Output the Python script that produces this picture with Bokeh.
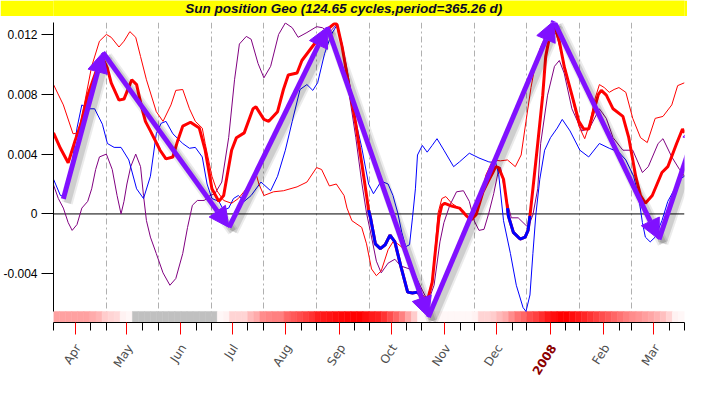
import numpy as np
from bokeh.plotting import figure
from bokeh.models import (Range1d, FixedTicker, Span, Arrow, NormalHead, ColumnDataSource)
from bokeh.layouts import column
from bokeh.core.properties import value
from bokeh.embed import file_html
from bokeh.resources import INLINE

# ---------------- data ----------------
TITLE = "Sun position Geo  (124.65 cycles,period=365.26 d)"
PERIOD_DAYS = 365.26
START = np.datetime64("2007-03-19T12:00")

MONTH_LABELS = ["Apr", "May", "Jun", "Jul", "Aug", "Sep", "Oct", "Nov", "Dec", "2008", "Feb", "Mar"]
MONTH_STARTS = ["2007-04-01", "2007-05-01", "2007-06-01", "2007-07-01", "2007-08-01", "2007-09-01",
                "2007-10-01", "2007-11-01", "2007-12-01", "2008-01-01", "2008-02-01", "2008-03-01"]

Y_TICKS = [-0.004, 0.0, 0.004, 0.008, 0.012]
Y_TICK_LABELS = ["-0.004", "0", "0.004", "0.008", "0.012"]

# series: day since START, value in units of 1e-3
RED_THICK_DAY = [0, 4.0, 8.5, 12.5, 16.4, 19.8, 24.9, 28.3, 31.2, 33.4, 37.9, 40.8, 45.3, 48.1, 51.0, 53.2,
                 56.1, 61.7, 65.1, 69.1, 71.9, 74.8, 79.3, 84.4, 87.8, 91.7, 95.7, 98.5, 103.1, 105.9, 110.4,
                 115.5, 117.2, 121.8, 124.6, 129.7, 133.1, 135.9, 141.0, 143.8, 150.1, 155.2, 159.7, 163.1,
                 164.2, 167.1, 171.0, 175.0, 178.4, 181.2, 182.4, 183.5, 186.3, 189.2, 192.0, 194.8, 197.6,
                 201.0, 205.0, 207.8, 210.7, 213.5, 216.3, 219.2, 220.9, 223.1, 224.8, 226.5, 230.5, 235.0,
                 239.0, 241.8, 244.6, 248.6, 251.4, 254.3, 256.0, 257.7, 260.5, 262.8, 263.3, 266.2, 270.1,
                 273.0, 274.7, 275.8, 277.5, 280.3, 283.2, 284.9, 287.7, 290.5, 292.8, 295.6, 300.1, 304.1,
                 306.9, 309.8, 312.6, 315.4, 317.1, 320.0, 323.9, 329.6, 333.0, 337.0, 339.8, 342.6, 346.6,
                 352.2, 355.6, 360.7, 364.1, 365.26]
RED_THICK_VAL = [5.42, 4.39, 3.42, 4.90, 6.19, 7.94, 9.61, 10.45, 9.74, 8.77, 7.61, 7.68, 8.97, 8.65, 7.16,
                 6.19, 5.55, 4.26, 3.68, 3.81, 4.90, 5.87, 6.13, 5.74, 4.26, 1.68, 0.84, 1.23, 4.26, 5.10,
                 5.42, 7.03, 7.16, 6.32, 6.19, 6.84, 8.32, 9.29, 9.42, 10.26, 11.23, 12.00, 12.45, 12.77,
                 12.65, 11.16, 8.58, 6.00, 3.42, 1.23, 0.26, -0.26, -2.00, -2.32, -2.06, -1.42, -1.87, -3.48,
                 -5.23, -5.29, -5.23, -5.61, -5.87, -4.58, -2.65, -0.26, 0.58, 0.71, 0.52, 0.39, -0.13,
                 -0.39, -0.06, 1.48, 2.13, 2.77, 3.16, 3.10, 2.32, 0.39, -0.13, -1.23, -1.68, -1.55, -1.10,
                 -0.13, 1.68, 4.71, 7.94, 10.52, 12.19, 12.45, 11.55, 9.87, 7.94, 6.19, 5.68, 5.68, 6.84,
                 8.00, 8.26, 7.94, 7.03, 6.52, 5.10, 2.52, 1.23, 0.71, 1.23, 2.77, 3.16, 4.71, 5.68, 5.42]

BLUE_THICK_OCT_DAY = [182.4, 183.5, 186.3, 189.2, 192.0, 194.8, 197.6, 201.0, 205.0, 207.8, 210.7, 212.4]
BLUE_THICK_OCT_VAL = [0.26, -0.26, -2.00, -2.32, -2.06, -1.42, -1.87, -3.48, -5.23, -5.29, -5.23, -5.42]
BLUE_THICK_DEC_DAY = [262.8, 263.3, 266.2, 270.1, 273.0, 274.7, 275.8]
BLUE_THICK_DEC_VAL = [0.39, -0.13, -1.23, -1.68, -1.55, -1.10, -0.13]

THIN_RED_DAY = [0, 5.7, 11.3, 14.2, 18.1, 22.1, 26.6, 30.6, 33.4, 37.9, 40.8, 44.2, 47.6, 50.4, 53.8, 59.5,
                63.4, 68.0, 70.8, 74.8, 78.7, 82.1, 86.1, 87.8, 91.7, 94.6, 98.5, 103.1, 107.0, 111.6, 114.4,
                117.2, 118.9, 121.8, 127.4, 133.1, 141.0, 146.7, 152.3, 155.2, 159.7, 163.7, 168.2, 169.9,
                172.7, 178.4, 181.2, 184.1, 186.9, 189.7, 193.7, 196.5, 199.3, 203.3, 209.0, 212.4, 216.3,
                219.2, 220.9, 222.6, 224.8, 227.1, 230.5, 237.3, 240.7, 244.6, 248.0, 250.3, 254.3, 258.8,
                262.8, 267.3, 270.7, 273.5, 276.4, 279.2, 282.0, 285.4, 287.7, 291.1, 295.6, 300.1, 304.1,
                307.5, 310.3, 313.2, 316.0, 318.8, 321.7, 324.5, 327.3, 331.3, 335.3, 339.8, 343.7, 348.3,
                352.8, 357.9, 361.3, 365.26]
THIN_RED_VAL = [8.65, 7.29, 5.36, 5.42, 7.48, 9.87, 11.55, 12.00, 11.81, 11.16, 11.55, 12.19, 11.81, 10.52,
                8.97, 6.84, 6.19, 7.29, 8.26, 8.32, 7.03, 6.19, 5.74, 4.71, 2.52, 1.55, 0.90, 0.71, 1.03,
                1.68, 2.32, 2.71, 2.00, 1.23, 1.48, 1.55, 1.81, 2.13, 3.10, 2.97, 1.87, 2.00, 1.23, 0.39,
                -0.45, -0.90, -2.00, -3.68, -4.13, -3.81, -2.39, -1.87, -2.00, -2.39, -4.13, -5.23, -5.74,
                -4.45, -2.32, 0.06, 1.03, 1.16, 0.71, 0.19, -0.39, -0.13, 1.35, 2.60, 3.60, 3.55, 3.61,
                3.16, 3.94, 6.19, 8.45, 10.19, 11.16, 12.00, 12.32, 12.00, 10.06, 7.81, 5.87, 5.03, 6.00,
                7.61, 8.65, 8.45, 8.13, 8.32, 8.45, 8.13, 6.39, 5.10, 4.77, 6.39, 6.52, 7.29, 8.58, 8.77]

BLUE_DAY = [0, 4.0, 6.8, 10.8, 13.6, 16.4, 19.8, 23.8, 28.3, 31.2, 35.1, 39.1, 43.6, 48.1, 52.1, 56.1, 59.5,
            62.3, 65.1, 69.1, 74.8, 78.7, 82.1, 86.1, 88.9, 91.7, 95.7, 98.5, 101.4, 104.2, 107.0, 110.4,
            114.4, 120.1, 125.7, 129.7, 134.2, 138.2, 142.7, 146.7, 150.1, 152.9, 156.9, 160.8, 164.2,
            167.1, 171.0, 175.0, 178.4, 182.4, 185.2, 189.7, 193.7, 196.5, 199.3, 201.6, 203.9, 206.1,
            207.8, 209.5, 210.7, 213.5, 216.3, 219.2, 222.0, 226.0, 231.6, 235.0, 240.7, 246.3, 252.0,
            256.0, 257.7, 260.5, 264.5, 267.9, 271.8, 273.5, 275.8, 277.5, 279.2, 281.5, 284.3, 287.7,
            291.6, 294.5, 299.0, 304.7, 309.8, 316.0, 321.7, 327.3, 331.3, 335.8, 338.6, 340.9, 342.6,
            345.4, 348.3, 352.2, 355.6, 359.6, 362.4, 365.26]
BLUE_VAL = [2.32, 1.23, 1.16, 3.42, 5.74, 7.29, 7.03, 7.03, 6.00, 4.71, 4.45, 4.45, 3.61, 1.68, 1.03, 2.52,
            5.36, 6.06, 6.19, 5.36, 4.71, 4.39, 4.45, 3.81, 2.00, 1.03, 0.84, 0.26, 0.39, 1.03, 1.23, 0.84,
            1.23, 2.13, 1.55, 2.52, 4.26, 6.19, 8.32, 8.65, 8.26, 8.77, 10.71, 12.00, 12.65, 11.36, 8.97,
            6.19, 4.45, 2.00, 1.35, 2.19, 2.00, 1.23, 0.06, -1.23, -2.19, -2.06, -0.26, 1.68, 3.94, 4.58,
            4.13, 4.58, 5.03, 4.26, 3.16, 3.48, 4.06, 3.74, 3.48, 3.42, 2.65, -0.45, -2.65, -4.77, -6.26,
            -6.52, -5.42, -2.65, -0.06, 2.32, 4.26, 5.10, 5.74, 6.32, 5.55, 4.26, 3.81, 4.71, 4.39, 4.13,
            3.61, 2.52, 1.23, -0.58, -1.55, -1.87, -1.55, -0.45, 0.84, 1.68, 2.32, 2.52]

PURPLE_DAY = [0, 2.8, 5.7, 8.5, 10.8, 13.6, 16.4, 19.8, 22.1, 24.4, 26.6, 30.6, 34.0, 36.8, 39.1, 40.8,
              42.5, 44.7, 47.6, 50.4, 52.1, 53.8, 56.1, 59.5, 63.4, 67.4, 70.8, 74.8, 77.6, 80.4, 83.3,
              87.2, 90.6, 93.4, 97.4, 101.4, 104.8, 107.6, 111.6, 114.4, 118.4, 121.8, 125.7, 130.3,
              134.2, 138.2, 141.6, 146.7, 152.3, 155.7, 159.7, 163.7, 167.1, 171.0, 175.0, 178.4, 181.2,
              184.1, 186.9, 189.7, 193.7, 197.6, 201.0, 206.1, 209.5, 213.5, 216.9, 220.3, 223.7, 226.0,
              229.4, 233.3, 237.3, 240.7, 243.5, 246.3, 249.2, 252.0, 254.8, 257.7, 258.8, 260.5, 262.8,
              265.0, 269.0, 273.0, 274.7, 277.5, 280.3, 282.0, 286.0, 290.0, 292.8, 295.6, 300.1, 305.8,
              310.3, 316.0, 320.0, 323.9, 329.6, 335.3, 340.9, 344.3, 350.0, 352.8, 357.9, 362.4, 365.26]
PURPLE_VAL = [1.94, 1.03, 0.39, -0.58, -1.10, -0.71, 0.39, 0.84, 1.68, 2.97, 3.81, 4.00, 2.97, 1.23, 0.00,
              0.84, 2.00, 3.16, 4.00, 3.16, 1.23, -0.45, -1.55, -2.65, -3.94, -4.77, -4.32, -2.65, -0.90,
              0.58, 0.90, 0.90, 1.23, 1.35, 2.13, 5.10, 8.97, 11.36, 11.87, 11.68, 10.06, 9.10, 9.87, 12.00,
              12.77, 12.45, 11.81, 12.13, 12.52, 12.45, 12.13, 12.65, 11.16, 8.13, 5.10, 2.13, 0.06, -1.55,
              -3.16, -3.94, -3.29, -3.03, -3.48, -3.68, -4.13, -5.10, -5.87, -4.77, -1.87, -0.58, 0.58,
              1.48, 1.55, 0.84, -0.45, -1.10, -1.03, 0.06, 1.35, 2.97, 3.10, 2.00, 0.71, -0.26, -0.26,
              -0.71, -0.90, -0.06, 1.68, 4.71, 7.94, 9.87, 10.26, 9.42, 7.03, 5.55, 5.74, 7.03, 6.39, 5.10,
              4.26, 4.26, 2.77, 3.16, 4.71, 5.03, 3.81, 2.97, 2.52]

# trend arrows (zig-zag vertices): day, value in 1e-3
ARROW_DAY = [5.7, 28.6, 101.6, 158.5, 217.0, 289.6, 350.5, 373.5]
ARROW_VAL = [1.0, 10.8, -0.9, 12.5, -6.9, 12.9, -1.7, 6.2]

# colour band under the plot: intensity per cell (None = no data, grey)
BAND_LEVELS = [0.37, 0.37, 0.37, 0.37, 0.37, 0.37, 0.33, 0.29, 0.20, 0.17, 0.15, 0.05, 0.03,
               None, None, None, None, None, None, None, None, None, None, None, None, None, None,
               0.03, 0.05, 0.17, 0.17, 0.17, 0.27, 0.33, 0.45, 0.48, 0.50, 0.50, 0.60, 0.65, 0.70, 0.75,
               0.80, 0.88, 0.90, 0.92, 0.95, 0.97, 0.98, 1.0, 1.0, 0.95, 0.90, 0.88, 0.80, 0.70, 0.60,
               0.50, 0.35, 0.20,
               0.03, 0.03, 0.03, 0.03, 0.03, 0.03, 0.03, 0.03, 0.03, 0.05,
               0.17, 0.17, 0.20, 0.27, 0.33, 0.45, 0.55, 0.60, 0.70, 0.75, 0.82, 0.90, 0.95, 1.0, 1.0,
               0.95, 0.90, 0.85, 0.80, 0.75, 0.70, 0.65, 0.60, 0.55, 0.50, 0.45, 0.42, 0.38, 0.35, 0.30,
               0.25, 0.17, 0.05, 0.03]

# ---------------- derived ----------------
MILLI = 1e-3
Y_START, Y_END = -7.26e-3, 12.8e-3
BAND_TOP = -6.52e-3


def days_since_start(dates, extra_days=0):
    return [float((np.datetime64(d) - START) / np.timedelta64(1, "D")) + extra_days for d in dates]


month_days = days_since_start(MONTH_STARTS)
tenth_days = days_since_start(MONTH_STARTS, 9)
grid_days = [PERIOD_DAYS * k / 12 for k in range(13)]
minor_days = sorted(grid_days + tenth_days)


def scaled(vals):
    return [v * MILLI for v in vals]


def band_color(t):
    if t is None:
        return "#c0c0c0"
    g = int(round(255 * (1 - t)))
    return "#ff%02x%02x" % (g, g)


# ---------------- layout sizes ----------------
W = 687
TITLE_H = 16
LEFT, RIGHT = 48, 3
MAIN_TOP, FRAME_H, AXIS_H = 6, 300, 16
MAIN_H = MAIN_TOP + FRAME_H + AXIS_H
LAB_H = 378 - TITLE_H - MAIN_H

# ---------------- title bar ----------------
tf = figure(width=W, height=TITLE_H, x_range=(0, W), y_range=(0, TITLE_H), toolbar_location=None,
            output_backend="svg", min_border=0, x_axis_type=None, y_axis_type=None,
            background_fill_color="#ffff00", border_fill_color="#ffff00", outline_line_color=None)
tf.grid.visible = False
tf.text(x=[318], y=[8], text=[TITLE], text_align="center", text_baseline="middle",
        text_font=value("Liberation Sans"), text_font_style="bold italic", text_font_size="13.5px",
        text_color="#0a0a28")

# ---------------- main plot ----------------
p = figure(width=W, height=MAIN_H, x_range=Range1d(0, PERIOD_DAYS), y_range=Range1d(Y_START, Y_END),
           toolbar_location=None, output_backend="svg", min_border_top=MAIN_TOP, min_border_bottom=AXIS_H,
           min_border_right=RIGHT, min_border_left=LEFT, outline_line_color=None,
           background_fill_color="white", border_fill_color="white")

# x axis: red ticks at month starts, black minor ticks; labels drawn in the strip below
p.xaxis.ticker = FixedTicker(ticks=month_days, minor_ticks=minor_days)
p.xaxis.major_label_overrides = {d: "" for d in month_days}
p.xaxis.major_label_standoff = 0
p.xaxis.axis_line_color = "black"
p.xaxis.major_tick_line_color = "red"
p.xaxis.major_tick_out = 12
p.xaxis.major_tick_in = 0
p.xaxis.minor_tick_line_color = "black"
p.xaxis.minor_tick_out = 8
p.xaxis.minor_tick_in = 0

# y axis
p.yaxis.ticker = FixedTicker(ticks=Y_TICKS)
p.yaxis.major_label_overrides = dict(zip(Y_TICKS, Y_TICK_LABELS))
p.yaxis.bounds = (BAND_TOP, Y_END)
p.yaxis.major_tick_out = 12
p.yaxis.major_tick_in = 0
p.yaxis.minor_tick_line_color = None
p.yaxis.major_label_standoff = 4
p.yaxis.major_label_text_font = "Liberation Sans"
p.yaxis.major_label_text_font_size = "12px"
p.yaxis.major_label_text_color = "black"
p.yaxis.axis_line_color = "black"

# grid
p.xgrid.ticker = FixedTicker(ticks=grid_days)
p.xgrid.grid_line_color = "#b0b0b0"
p.xgrid.grid_line_dash = "6 3 2 3"
p.ygrid.visible = False

p.add_layout(Span(location=0, dimension="width", line_color="black", line_width=1, level="underlay"))

# colour band
n = len(BAND_LEVELS)
cell = PERIOD_DAYS / n
band_cols = [band_color(t) for t in BAND_LEVELS]
p.quad(left=[i * cell for i in range(n)], right=[(i + 1) * cell for i in range(n)],
       bottom=Y_START, top=BAND_TOP, fill_color=band_cols, line_color=band_cols, line_width=0.5)

# series
p.line(PURPLE_DAY, scaled(PURPLE_VAL), line_color="#800080", line_width=1)
p.line(BLUE_DAY, scaled(BLUE_VAL), line_color="#0000ff", line_width=1)
p.line(THIN_RED_DAY, scaled(THIN_RED_VAL), line_color="#ff0000", line_width=1)
p.line(RED_THICK_DAY, scaled(RED_THICK_VAL), line_color="#ff0000", line_width=3)
p.line(BLUE_THICK_OCT_DAY, scaled(BLUE_THICK_OCT_VAL), line_color="#0000ff", line_width=3)
p.line(BLUE_THICK_DEC_DAY, scaled(BLUE_THICK_DEC_VAL), line_color="#0000ff", line_width=3)

# arrow shadows (offset a few pixels down-right)
FRAME_W_PX = W - LEFT - RIGHT
sdx = 4 * PERIOD_DAYS / FRAME_W_PX
sdy = -4 * (Y_END - Y_START) / FRAME_H
ax = ARROW_DAY
ay = scaled(ARROW_VAL)
for w, a in ((11, 0.08), (7, 0.12)):
    p.segment(x0=[x + sdx for x in ax[:-1]], y0=[y + sdy for y in ay[:-1]],
              x1=[x + sdx for x in ax[1:]], y1=[y + sdy for y in ay[1:]],
              line_color="black", line_alpha=a, line_width=w)

ARROW_COLOR = "#8010ff"
arrow_src = ColumnDataSource(dict(x0=ax[:-1], y0=ay[:-1], x1=ax[1:], y1=ay[1:]))
p.add_layout(Arrow(source=arrow_src, x_start="x0", y_start="y0", x_end="x1", y_end="y1",
                   line_color=ARROW_COLOR, line_width=5,
                   end=NormalHead(size=20, fill_color=ARROW_COLOR, line_color=ARROW_COLOR)))

# ---------------- month label strip ----------------
lf = figure(width=W, height=LAB_H, x_range=p.x_range, y_range=Range1d(0, LAB_H),
            toolbar_location=None, output_backend="svg", min_border_left=LEFT, min_border_right=RIGHT,
            min_border_top=0, min_border_bottom=0, x_axis_type=None, y_axis_type=None,
            outline_line_color=None, background_fill_color="white", border_fill_color="white")
lf.grid.visible = False
lf.text(x=month_days, y=[LAB_H - 7] * len(month_days), text=MONTH_LABELS, x_offset=3,
        angle=1.0, text_align="right", text_baseline="middle",
        text_font=value("DejaVu Sans"), text_font_size="12px",
        text_color=["#8b0000" if t == "2008" else "#4d4d4d" for t in MONTH_LABELS],
        text_font_style=["bold" if t == "2008" else "normal" for t in MONTH_LABELS])

layout = column(tf, p, lf, spacing=0)
open("out.html", "w").write(file_html(layout, INLINE))
